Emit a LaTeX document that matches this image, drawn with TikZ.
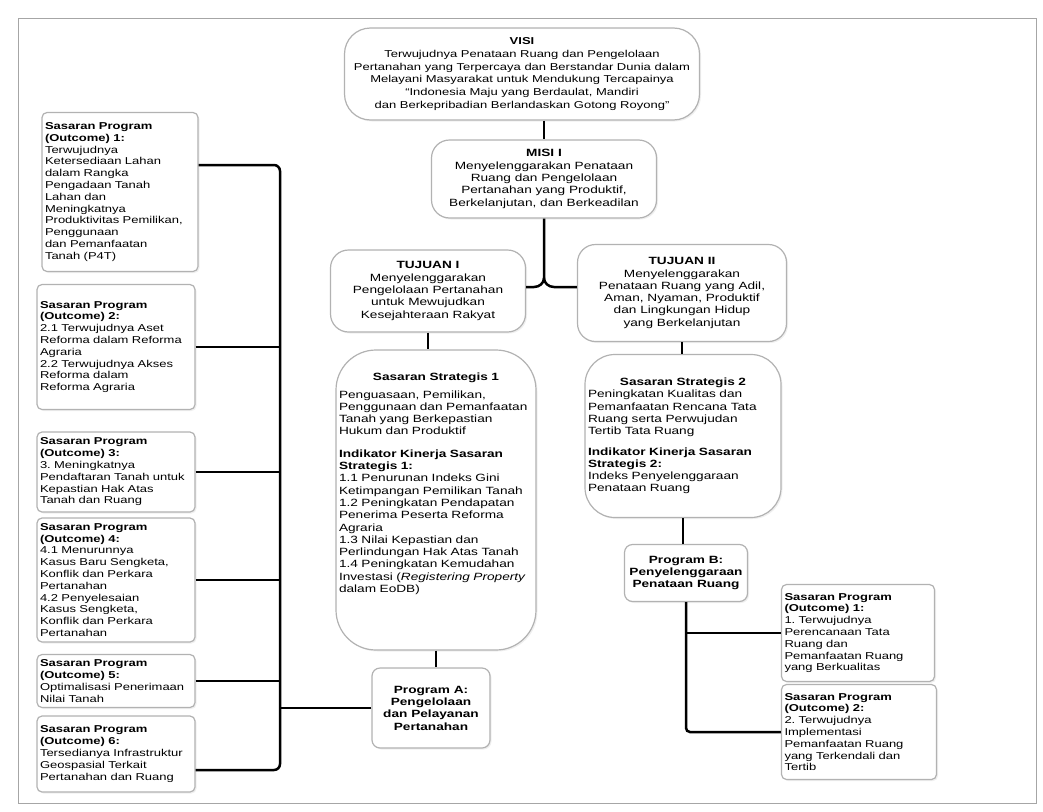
\documentclass[tikz,border=0pt]{standalone}
\usepackage{fontspec}
\setmainfont{Liberation Sans}[FakeStretch=1.3]
\usetikzlibrary{shadows}
\newcommand\mainsize{\fontsize{10.5}{12.3}\selectfont}
\newcommand\leftsize{\fontsize{10}{11.8}\selectfont}

\begin{document}
\begin{tikzpicture}[x=1pt,y=-1pt,inner sep=3pt,
  rbox/.style={draw=black!30,line width=1.2pt,fill=white,
    drop shadow={shadow xshift=1.5pt,shadow yshift=-1.5pt,fill=black!12}},
  big/.style={rbox,rounded corners=18pt,align=center,font=\mainsize},
  small/.style={rbox,rounded corners=5pt,align=left,text width=152pt,minimum height=#1,font=\leftsize},
  link/.style={line width=2.5pt}]
  \useasboundingbox (0,0) rectangle (1043,811);
  \draw[black!35] (18,18) rectangle (1036,803);
  % visi, misi, tujuan
  \node[big,minimum width=355pt,minimum height=92pt,rounded corners=26pt,font=\fontsize{10}{12.8}\selectfont] (visi) at (522,74)
    {\textbf{VISI}\\ Terwujudnya Penataan Ruang dan Pengelolaan\\ Pertanahan yang Terpercaya dan Berstandar Dunia dalam\\
     Melayani Masyarakat untuk Mendukung Tercapainya\\ ``Indonesia Maju yang Berdaulat, Mandiri\\ dan Berkepribadian Berlandaskan Gotong Royong''};
  \node[big,minimum width=225pt,minimum height=78pt] (misi) at (544,179)
    {\textbf{MISI I}\\ Menyelenggarakan Penataan\\ Ruang dan Pengelolaan\\ Pertanahan yang Produktif,\\ Berkelanjutan, dan Berkeadilan};
  \node[big,minimum width=195pt,minimum height=82pt] (tujuanI) at (428,291)
    {\textbf{TUJUAN I}\\ Menyelenggarakan\\ Pengelolaan Pertanahan\\ untuk Mewujudkan\\ Kesejahteraan Rakyat};
  \node[big,minimum width=209pt,minimum height=97pt] (tujuanII) at (682,293)
    {\textbf{TUJUAN II}\\ Menyelenggarakan\\ Penataan Ruang yang Adil,\\ Aman, Nyaman, Produktif\\ dan Lingkungan Hidup\\ yang Berkelanjutan};
  % sasaran strategis
  \node[big,align=left,text width=194pt,minimum height=300pt,rounded corners=40pt] (ssI) at (436,500)
    {\makebox[194pt]{\textbf{Sasaran Strategis 1}}\\[5pt]
     Penguasaan, Pemilikan,\\ Penggunaan dan Pemanfaatan\\ Tanah yang Berkepastian\\ Hukum dan Produktif\\[10pt]
     \textbf{Indikator Kinerja Sasaran}\\ \textbf{Strategis 1:}\\
     1.1 Penurunan Indeks Gini\\ Ketimpangan Pemilikan Tanah\\ 1.2 Peningkatan Pendapatan\\ Penerima Peserta Reforma\\ Agraria\\
     1.3 Nilai Kepastian dan\\ Perlindungan Hak Atas Tanah\\ 1.4 Peningkatan Kemudahan\\ Investasi (\textit{Registering Property}\\ dalam EoDB)\\[22pt]\mbox{}};
  \node[big,align=left,text width=190pt,minimum height=163pt,rounded corners=30pt] (ssII) at (683,436)
    {\makebox[190pt]{\textbf{Sasaran Strategis 2}}\\
     Peningkatan Kualitas dan\\ Pemanfaatan Rencana Tata\\ Ruang serta Perwujudan\\ Tertib Tata Ruang\\[8pt]
     \textbf{Indikator Kinerja Sasaran}\\ \textbf{Strategis 2:}\\ Indeks Penyelenggaraan\\ Penataan Ruang};
  % program
  \node[big,font=\mainsize\bfseries,minimum width=118pt,minimum height=80pt,rounded corners=8pt] (progA) at (431,708)
    {Program A:\\ Pengelolaan\\ dan Pelayanan\\ Pertanahan};
  \node[big,font=\mainsize\bfseries,minimum width=123pt,minimum height=57pt,rounded corners=8pt] (progB) at (686,573)
    {Program B:\\ Penyelenggaraan\\ Penataan Ruang};
  % sasaran program
  \node[small=97pt,text width=147pt] (outI) at (858,633)
    {\textbf{Sasaran Program}\\ \textbf{(Outcome) 1:}\\ 1.\ Terwujudnya\\ Perencanaan Tata\\ Ruang dan\\ Pemanfaatan Ruang\\ yang Berkualitas};
  \node[small=95pt,text width=149pt] (outII) at (859,732)
    {\textbf{Sasaran Program}\\ \textbf{(Outcome) 2:}\\ 2.\ Terwujudnya\\ Implementasi\\ Pemanfaatan Ruang\\ yang Terkendali dan\\ Tertib};
  \node[small=159pt,text width=150pt] (l1) at (120,192)
    {\textbf{Sasaran Program}\\ \textbf{(Outcome) 1:}\\ Terwujudnya\\ Ketersediaan Lahan\\ dalam Rangka\\ Pengadaan Tanah\\ Lahan dan\\
     Meningkatnya\\ Produktivitas Pemilikan,\\ Penggunaan\\ dan Pemanfaatan\\ Tanah (P4T)};
  \node[small=125pt] (l2) at (116,347)
    {\textbf{Sasaran Program}\\ \textbf{(Outcome) 2:}\\ 2.1 Terwujudnya Aset\\ Reforma dalam Reforma\\ Agraria\\ 2.2 Terwujudnya Akses\\ Reforma dalam\\ Reforma Agraria\\[10pt]};
  \node[small=80pt] (l3) at (116,472)
    {\textbf{Sasaran Program}\\ \textbf{(Outcome) 3:}\\ 3.\ Meningkatnya\\ Pendaftaran Tanah untuk\\ Kepastian Hak Atas\\ Tanah dan Ruang};
  \node[small=124pt] (l4) at (116,580)
    {\textbf{Sasaran Program}\\ \textbf{(Outcome) 4:}\\ 4.1 Menurunnya\\ Kasus Baru Sengketa,\\ Konflik dan Perkara\\ Pertanahan\\
     4.2 Penyelesaian\\ Kasus Sengketa,\\ Konflik dan Perkara\\ Pertanahan};
  \node[small=53pt] (l5) at (116,681)
    {\textbf{Sasaran Program}\\ \textbf{(Outcome) 5:}\\ Optimalisasi Penerimaan\\ Nilai Tanah};
  \node[small=76pt] (l6) at (116,754)
    {\textbf{Sasaran Program}\\ \textbf{(Outcome) 6:}\\ Tersedianya Infrastruktur\\ Geospasial Terkait\\ Pertanahan dan Ruang};
  % connectors
  \coordinate (fork) at (misi.south |- 0,278);
  \coordinate (busL) at (280,0);
  \draw[link] (visi.south -| misi.north) -- (misi.north);
  \draw[link] (misi.south) -- (fork) to[out=-90,in=0] ++(-10,9) -- (tujuanI.east |- 0,287);
  \draw[link] (fork) to[out=-90,in=180] ++(10,9) -- (tujuanII.west |- 0,287);
  \draw[link] (tujuanI.south) -- (tujuanI.south |- ssI.north);
  \draw[link] (tujuanII.south) -- (tujuanII.south |- ssII.north);
  \draw[link] (ssI.south) -- (ssI.south |- progA.north);
  \draw[link] (ssII.south) -- (ssII.south |- progB.north);
  \draw[link,rounded corners=4pt] (progB.south) |- (outII.west);
  \draw[link] (outI.west) -- (outI.west -| progB.south);
  \draw[link,rounded corners=6pt] (l1.east |- 0,165) -| (busL |- 0,770) -- (l6.east |- 0,770);
  \foreach \n in {l2,l3,l4,l5}
    \draw[link] (\n.east) -- (\n.east -| busL);
  \draw[link] (progA.west) -- (progA.west -| busL);
\end{tikzpicture}
\end{document}
